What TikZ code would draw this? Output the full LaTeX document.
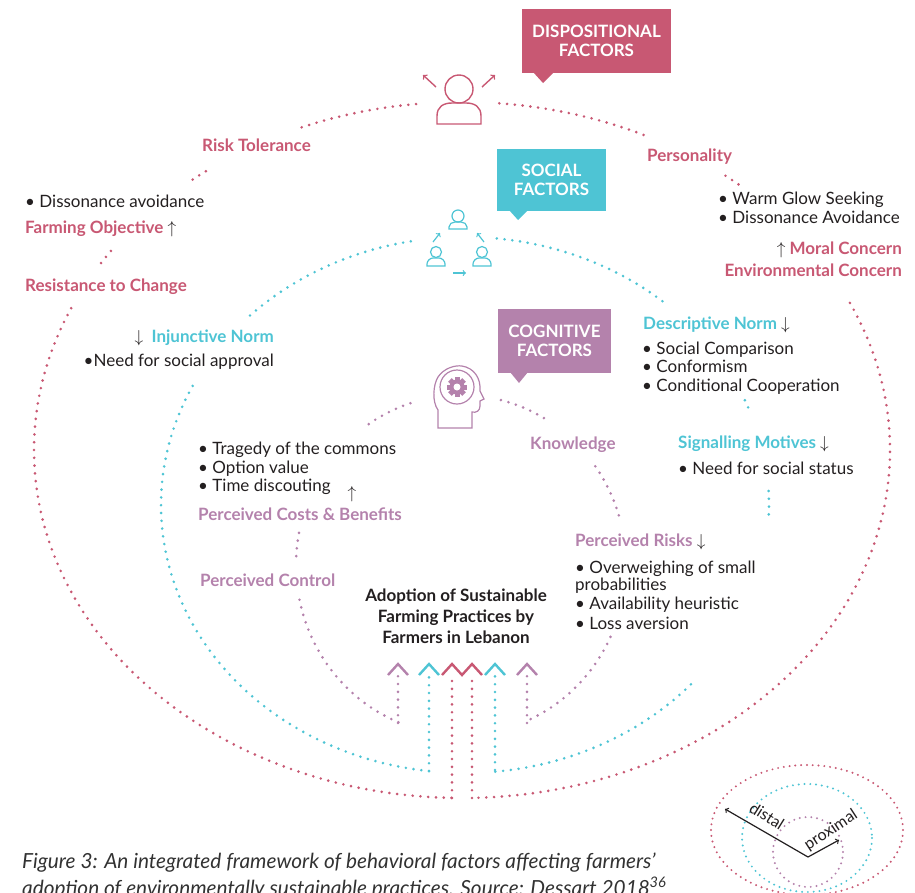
\documentclass[tikz,border=0pt]{standalone}
\usepackage{fontspec}
\setmainfont{Lato}
\usepackage{tikz}
\usepackage{xcolor}

\definecolor{dispink}{RGB}{200,88,115}
\definecolor{soccyan}{RGB}{78,196,212}
\definecolor{cogpurple}{RGB}{180,130,172}
\definecolor{inkdark}{RGB}{35,31,32}
\definecolor{capgray}{RGB}{50,50,50}

\tikzset{
  pinkdots/.style={draw=dispink, line width=2.9pt, line cap=round, dash pattern=on 0pt off 7.8pt},
  cyandots/.style={draw=soccyan, line width=2.9pt, line cap=round, dash pattern=on 0pt off 7.8pt},
  purpdots/.style={draw=cogpurple, line width=2.9pt, line cap=round, dash pattern=on 0pt off 7.8pt},
  finedots/.style={line width=2.2pt, line cap=round, dash pattern=on 0pt off 5.8pt},
  chevron/.style={line width=2.4pt, line join=miter},
  factorbox/.style={text=white, font=\fontsize{17}{19}\selectfont\bfseries, align=center, inner sep=0pt},
  pinklbl/.style={text=dispink, font=\fontsize{17}{19}\selectfont\bfseries, inner sep=0pt},
  cyanlbl/.style={text=soccyan, font=\fontsize{17}{19}\selectfont\bfseries, inner sep=0pt},
  purplbl/.style={text=cogpurple, font=\fontsize{17}{19}\selectfont\bfseries, inner sep=0pt},
  bullet/.style={text=inkdark, font=\fontsize{17}{19}\selectfont, inner sep=0pt},
  icon/.style={line width=1.4pt}
}

\begin{document}
\begin{tikzpicture}[x=1pt,y=-1pt]
\useasboundingbox (0,0) rectangle (915,892);
\clip (0,0) rectangle (915,892);

% outer ring: dispositional
\draw[pinkdots] (462,450) ++(-85:428 and 348) arc[start angle=-85, end angle=-64.5, x radius=428, y radius=348];
\draw[pinkdots] (462,450) ++(-52:428 and 348) arc[start angle=-52, end angle=-49.5, x radius=428, y radius=348];
\draw[pinkdots] (462,450) ++(-25:428 and 348) arc[start angle=-25, end angle=88.6, x radius=428, y radius=348];
\draw[pinkdots] (462,450) ++(91.4:428 and 348) arc[start angle=91.4, end angle=205, x radius=428, y radius=348];
\draw[pinkdots] (462,450) ++(212.5:428 and 348) arc[start angle=212.5, end angle=215, x radius=428, y radius=348];
\draw[pinkdots] (462,450) ++(231:428 and 348) arc[start angle=231, end angle=234, x radius=428, y radius=348];
\draw[pinkdots] (462,450) ++(248:428 and 348) arc[start angle=248, end angle=264, x radius=428, y radius=348];

% middle ring: social
\draw[cyandots] (465,505) ++(-84:304 and 268) arc[start angle=-84, end angle=-49, x radius=304, y radius=268];
\draw[cyandots] (465,505) ++(-23:304 and 268) arc[start angle=-23, end angle=-20, x radius=304, y radius=268];
\draw[cyandots] (465,505) ++(-3:304 and 268) arc[start angle=-3, end angle=3, x radius=304, y radius=268];
\draw[cyandots] (465,505) ++(42:304 and 268) arc[start angle=42, end angle=84.3, x radius=304, y radius=268];
\draw[cyandots] (465,505) ++(96.8:304 and 268) arc[start angle=96.8, end angle=207, x radius=304, y radius=268];
\draw[cyandots] (465,505) ++(225:304 and 268) arc[start angle=225, end angle=260, x radius=304, y radius=268];

% inner ring: cognitive
\draw[purpdots] (461,565) ++(236:165 and 170) arc[start angle=236, end angle=253.5, x radius=165, y radius=170];
\draw[purpdots] (461,565) ++(-76:165 and 170) arc[start angle=-76, end angle=-58.5, x radius=165, y radius=170];
\draw[purpdots] (461,565) ++(-35.5:165 and 170) arc[start angle=-35.5, end angle=-16, x radius=165, y radius=170];
\draw[purpdots] (461,565) ++(25:165 and 170) arc[start angle=25, end angle=66.7, x radius=165, y radius=170];
\draw[purpdots] (461,565) ++(112.3:165 and 170) arc[start angle=112.3, end angle=169, x radius=165, y radius=170];
\draw[purpdots] (461,565) ++(183:165 and 170) arc[start angle=183, end angle=191, x radius=165, y radius=170];

% links up to the adoption box
\coordinate (pinkL) at (452,798);
\coordinate (pinkR) at (472,798);
\coordinate (cyanL) at (429,771);
\coordinate (cyanR) at (495,770);
\coordinate (purpL) at (398,723);
\coordinate (purpR) at (527,723);
\coordinate (pinkLtop) at (452,676);
\coordinate (pinkRtop) at (472,676);
\coordinate (cyanLtop) at (429,670);
\coordinate (cyanRtop) at (495,670);
\coordinate (purpLtop) at (398,671);
\coordinate (purpRtop) at (527,671);
\draw[pinkdots] (pinkL) -- (pinkLtop);
\draw[pinkdots] (pinkR) -- (pinkRtop);
\draw[cyandots] (cyanL) -- (cyanLtop);
\draw[cyandots] (cyanR) -- (cyanRtop);
\draw[purpdots] (purpL) -- (purpLtop);
\draw[purpdots] (purpR) -- (purpRtop);
\draw[chevron, dispink] (442,675) -- (452,664) -- (462,675) -- (472,664) -- (482,675);
\draw[chevron, soccyan] (419,675) -- (429,664) -- (439,675);
\draw[chevron, soccyan] (485,675) -- (495,664) -- (505,675);
\draw[chevron, cogpurple] (388,675) -- (398,664) -- (408,675);
\draw[chevron, cogpurple] (517,675) -- (527,664) -- (537,675);

% factor boxes
\node[factorbox, fill=dispink, minimum width=149, minimum height=64] (dispbox) at (596.5,41) {DISPOSITIONAL\\FACTORS};
\fill[dispink] (533,72) -- (543,83) -- (554,72) -- cycle;
\node[factorbox, fill=soccyan, minimum width=109, minimum height=62] (socbox) at (551.5,180) {SOCIAL\\FACTORS};
\fill[soccyan] (509,210) -- (518,220) -- (528,210) -- cycle;
\node[factorbox, fill=cogpurple, minimum width=113, minimum height=64] (cogbox) at (554.5,341) {COGNITIVE\\FACTORS};
\fill[cogpurple] (510,372) -- (519,383) -- (528,372) -- cycle;

% person icon
\begin{scope}[icon, dispink]
\draw (459,89) circle (14);
\draw (437,124) -- (437,116) .. controls (437,107) and (443,103) .. (452,103) -- (466,103) .. controls (475,103) and (481,107) .. (481,116) -- (481,124) -- cycle;
\draw[->] (436,87) -- (423,75);
\draw[->] (482,87) -- (495,75);
\end{scope}

% group icon
\begin{scope}[icon, soccyan, line width=1.2pt]
\draw (458,216) circle (6);
\draw (449,229) -- (449,227) .. controls (449,224) and (452,222) .. (455,222) -- (461,222) .. controls (464,222) and (467,224) .. (467,227) -- (467,229) -- cycle;
\draw (436,252) circle (5.5);
\draw (427,266) -- (427,264) .. controls (427,261) and (430,258) .. (433,258) -- (439,258) .. controls (442,258) and (445,261) .. (445,264) -- (445,266) -- cycle;
\draw (482,252) circle (5.5);
\draw (473,266) -- (473,264) .. controls (473,261) and (476,258) .. (479,258) -- (485,258) .. controls (488,258) and (491,261) .. (491,264) -- (491,266) -- cycle;
\draw[->] (433,242) -- (440,233);
\draw[->] (484,242) -- (477,233);
\draw[->] (453,273) -- (466,273);
\end{scope}

% head icon
\begin{scope}[icon, cogpurple, line width=1.2pt]
\draw (438,428) -- (438,410) .. controls (432,402) and (433,385) .. (438,377) .. controls (444,368) and (455,365) .. (462,366) .. controls (474,368) and (481,378) .. (480,391) -- (484,399) -- (480,401) -- (480,406) .. controls (480,411) and (476,413) .. (472,412) -- (472,428) -- cycle;
\draw (457,387) circle (17);
\fill (457,387) circle (7.5);
\foreach \a in {0,45,...,315}
  \fill[rotate around={\a:(457,387)}] (454.5,377) rectangle (459.5,381);
\fill[white] (457,387) circle (3.5);
\end{scope}

% dispositional labels
\node[pinklbl, anchor=base west] (risktol) at (202,151) {Risk Tolerance};
\node[bullet, anchor=base west] (dissavoid) at (25,207) {• Dissonance avoidance};
\node[pinklbl, anchor=base west] (farmobj) at (25,233) {Farming Objective \textcolor{inkdark}{$\uparrow$}};
\node[pinklbl, anchor=base west] (resist) at (25,291) {Resistance to Change};
\node[pinklbl, anchor=base west] (personal) at (647,161) {Personality};
\node[bullet, anchor=base west] (warmglow) at (718,204) {• Warm Glow Seeking};
\node[bullet, anchor=base west] (dissavoidb) at (718,223) {• Dissonance Avoidance};
\node[pinklbl, anchor=base east] (moral) at (902,254) {\textcolor{inkdark}{$\uparrow$} Moral Concern};
\node[pinklbl, anchor=base east] (envconc) at (902,276) {Environmental Concern};

% social labels
\node[cyanlbl, anchor=base east] (injnorm) at (274,342) {\textcolor{inkdark}{$\downarrow$}\ \ Injunctive Norm};
\node[bullet, anchor=base east] (approval) at (274,366) {•Need for social approval};
\node[cyanlbl, anchor=base west] (descnorm) at (643,329) {Descriptive Norm \textcolor{inkdark}{$\downarrow$}};
\node[bullet, anchor=base west] (soccomp) at (642,354) {• Social Comparison};
\node[bullet, anchor=base west] (conform) at (642,372) {• Conformism};
\node[bullet, anchor=base west] (condcoop) at (642,391) {• Conditional Cooperation};
\node[cyanlbl, anchor=base west] (signal) at (678,448) {Signalling Motives \textcolor{inkdark}{$\downarrow$}};
\node[bullet, anchor=base west] (status) at (678,474) {• Need for social status};

% cognitive labels
\node[purplbl, anchor=base west] (knowl) at (530,449) {Knowledge};
\node[bullet, anchor=base west] (tragedy) at (198,454) {• Tragedy of the commons};
\node[bullet, anchor=base west] (option) at (198,473) {• Option value};
\node[bullet, anchor=base west] (timedisc) at (198,491) {• Time discouting};
\node[bullet] (costarrow) at (352,494) {$\uparrow$};
\node[purplbl, anchor=base west] (costben) at (198,520) {Perceived Costs \& Benefits};
\node[purplbl, anchor=base west] (pcontrol) at (200,586) {Perceived Control};
\node[purplbl, anchor=base west] (prisks) at (575,546) {Perceived Risks \textcolor{inkdark}{$\downarrow$}};
\node[bullet, anchor=base west] (overw) at (575,573) {• Overweighing of small};
\node[bullet, anchor=base west] (probab) at (575,590) {probabilities};
\node[bullet, anchor=base west] (avail) at (575,609) {• Availability heuristic};
\node[bullet, anchor=base west] (lossav) at (575,629) {• Loss aversion};

% centre
\node[text=inkdark, font=\fontsize{17}{21}\selectfont\bfseries, align=center, inner sep=0pt] (adopt) at (456,616) {Adoption of Sustainable\\Farming Practices by\\Farmers in Lebanon};

% legend
\draw[finedots, dispink] (807,830) ellipse [x radius=96, y radius=65];
\draw[finedots, soccyan] (807,838) ellipse [x radius=65, y radius=54];
\draw[finedots, cogpurple] (808,852) circle (35);
\coordinate (lgcentre) at (808,857);
\coordinate (lgdistal) at (725,809);
\coordinate (lgproximal) at (839,840);
\draw[->, inkdark, line width=1.2pt] (lgcentre) -- (lgdistal);
\draw[->, inkdark, line width=1.2pt] (lgcentre) -- (lgproximal);
\node[text=inkdark, font=\fontsize{16}{18}\selectfont, rotate=-32] (distal) at (767,816) {distal};
\node[text=inkdark, font=\fontsize{16}{18}\selectfont, rotate=33] (proximal) at (831,830) {proximal};

% caption
\node[text=capgray, font=\fontsize{20.8}{24}\selectfont\itshape, anchor=base west, inner sep=0pt] (caption) at (22,868) {Figure 3: An integrated framework of behavioral factors affecting farmers’};
\node[text=capgray, font=\fontsize{20.8}{24}\selectfont\itshape, anchor=base west, inner sep=0pt] (captionb) at (22,895) {adoption of environmentally sustainable practices. Source: Dessart 2018\textsuperscript{36}};
\end{tikzpicture}
\end{document}
